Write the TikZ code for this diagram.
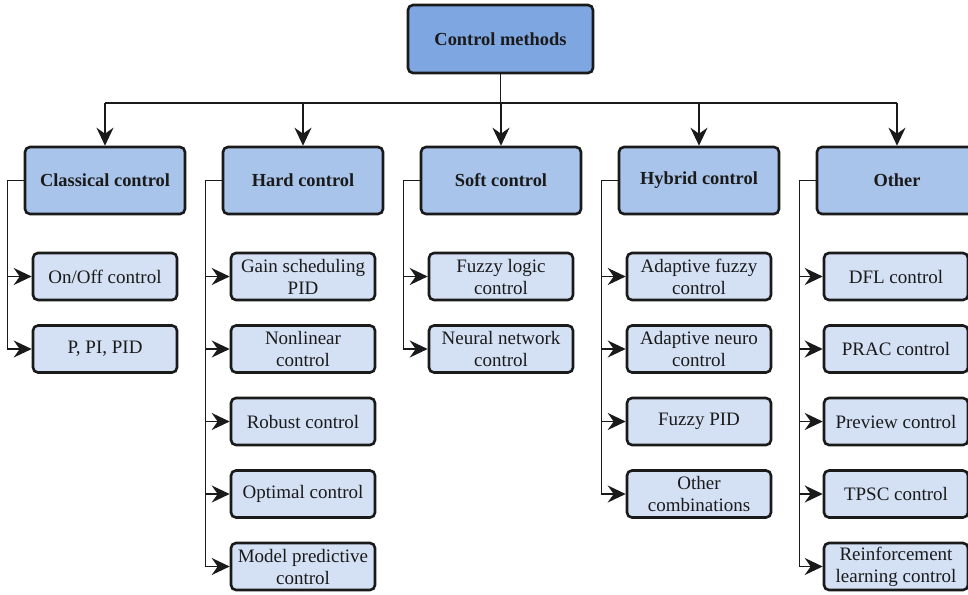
\documentclass[tikz,border=0pt]{standalone}
\usepackage{fontspec}
\setmainfont{Liberation Serif}
\usetikzlibrary{arrows.meta}

\definecolor{rootfill}{HTML}{7EA6E0}
\definecolor{groupfill}{HTML}{A9C4EB}
\definecolor{leaffill}{HTML}{D4E1F5}
\definecolor{inkline}{HTML}{1A1A1A}

\tikzset{
  box/.style={draw=inkline, line width=1.3pt, rounded corners=2.5pt,
    align=center, inner sep=0pt, text=inkline,
    font=\fontsize{9.5}{11}\selectfont},
  rootbox/.style={box, fill=rootfill, minimum width=92.5pt, minimum height=34pt,
    font=\fontsize{9.2}{11}\selectfont\bfseries},
  groupbox/.style={box, fill=groupfill, minimum width=80pt, minimum height=33.5pt,
    font=\fontsize{9.2}{11}\selectfont\bfseries},
  leafbox/.style={box, fill=leaffill, minimum width=72pt, minimum height=23.5pt},
  link/.style={draw=inkline, line width=0.75pt},
  arr/.style={link, -{Stealth[length=9pt, width=8.5pt, inset=3pt]}},
}

\begin{document}
\begin{tikzpicture}[x=0.5pt, y=-0.5pt]
  \clip (0,0) rectangle (968,594);
  \useasboundingbox (0,0) rectangle (968,594);

  % root
  \node[rootbox] (root) at (500.5,39) {Control methods};

  % method groups
  \node[groupbox] (cls) at (105,180.5) {Classical control};
  \node[groupbox] (hrd) at (303,180.5) {Hard control};
  \node[groupbox] (sft) at (501,180.5) {Soft control};
  \node[groupbox] (hyb) at (699,180.5) {Hybrid control};
  \node[groupbox] (oth) at (897,180.5) {Other};

  % classical
  \node[leafbox] (c1) at (105,276.5) {On/Off control};
  \node[leafbox] (c2) at (105,349) {P, PI, PID};

  % hard
  \node[leafbox] (h1) at (303,276.5) {Gain scheduling\\PID};
  \node[leafbox] (h2) at (303,349) {Nonlinear\\control};
  \node[leafbox] (h3) at (303,421.5) {Robust control};
  \node[leafbox] (h4) at (303,494) {Optimal control};
  \node[leafbox] (h5) at (303,566.5) {Model predictive\\control};

  % soft
  \node[leafbox] (s1) at (501,276.5) {Fuzzy logic\\control};
  \node[leafbox] (s2) at (501,349) {Neural network\\control};

  % hybrid
  \node[leafbox] (y1) at (699,276.5) {Adaptive fuzzy\\control};
  \node[leafbox] (y2) at (699,349) {Adaptive neuro\\control};
  \node[leafbox] (y3) at (699,421.5) {Fuzzy PID};
  \node[leafbox] (y4) at (699,494) {Other\\combinations};

  % other
  \node[leafbox] (o1) at (896,276.5) {DFL control};
  \node[leafbox] (o2) at (896,349) {PRAC control};
  \node[leafbox] (o3) at (896,421.5) {Preview control};
  \node[leafbox] (o4) at (896,494) {TPSC control};
  \node[leafbox] (o5) at (896,566.5) {Reinforcement\\learning control};

  % root to groups
  \coordinate (bus) at (500.5,103);
  \draw[link] (root.south) -- (bus);
  \draw[link] (bus -| cls.north) -- (bus -| oth.north);
  \foreach \g in {cls,hrd,sft,hyb,oth}
    \draw[arr] (bus -| \g.north) -- (\g.north);

  % groups to leaves
  \foreach \g/\leaves in {cls/{c1,c2}, hrd/{h1,h2,h3,h4,h5}, sft/{s1,s2},
                          hyb/{y1,y2,y3,y4}, oth/{o1,o2,o3,o4,o5}}
    \foreach \l in \leaves
      \draw[arr] (\g.west) -- ++(-16,0) |- (\l.west);
\end{tikzpicture}
\end{document}
